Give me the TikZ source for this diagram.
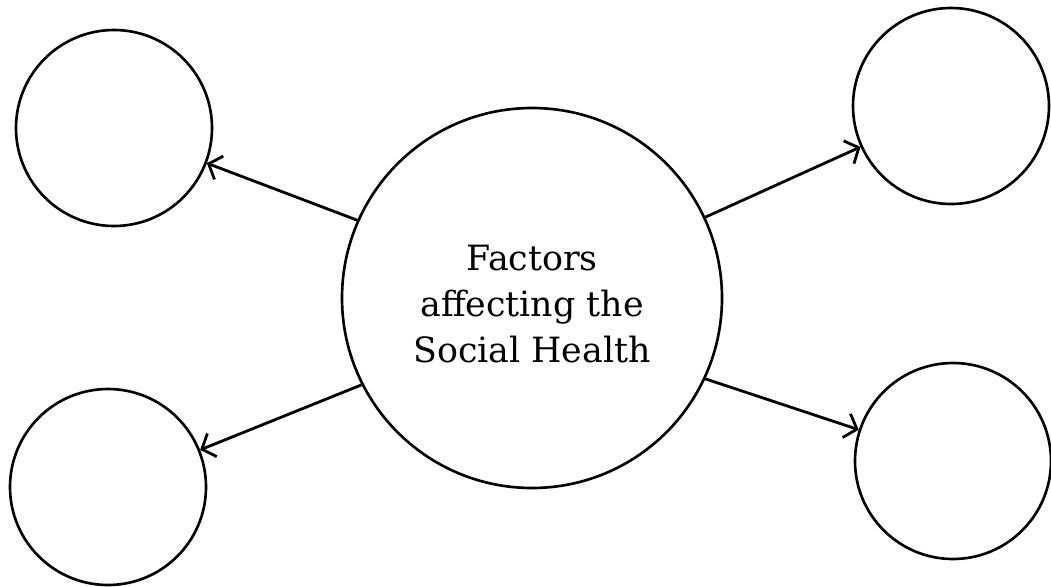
\documentclass[tikz,border=0pt]{standalone}
\usepackage{fontspec}
\setmainfont{DejaVu Serif}
\usetikzlibrary{arrows.meta}
\tikzset{
  bubble/.style={circle, draw=black, line width=0.75pt, inner sep=0pt, minimum size=1.96cm},
  hub/.style={circle, draw=black, line width=0.75pt, inner sep=0pt, minimum size=3.8cm},
  hubtext/.style={align=center, inner sep=0pt, yshift=-0.06cm, font=\fontsize{9.9}{13}\selectfont},
  link/.style={line width=0.8pt, -{Straight Barb[length=1.1mm,width=2.5mm,line width=0.8pt]}}
}
\begin{document}
\begin{tikzpicture}
\useasboundingbox (0,0) rectangle (10.51,-5.86);
\fill[white] (0,0) rectangle (10.51,-5.86);
\node[hub, label={[hubtext]center:Factors\\affecting the\\Social Health}] (c) at (5.32,-2.98) {};
\node[bubble] (tl) at (1.14,-1.28) {};
\node[bubble] (bl) at (1.08,-4.87) {};
\node[bubble] (tr) at (9.51,-1.06) {};
\node[bubble] (br) at (9.53,-4.61) {};
\draw[link] (c.156) -- (tl);
\draw[link] (c.207) -- (bl);
\draw[link] (c.25) -- (tr);
\draw[link] (c.-25) -- (br);
\end{tikzpicture}
\end{document}
